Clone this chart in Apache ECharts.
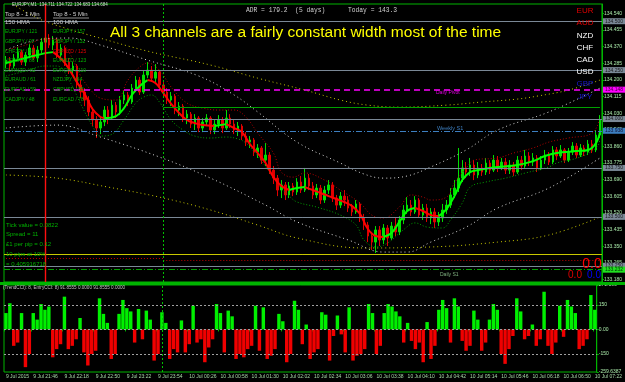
<!DOCTYPE html>
<html>
<head>
<meta charset="utf-8">
<script src="https://cdn.jsdelivr.net/npm/echarts@6.0.0/dist/echarts.min.js"></script>
<style>
  html, body { margin: 0; padding: 0; background: #000; }
  #chart { width: 625px; height: 382px; }
</style>
</head>
<body>
<div id="chart"></div>
<script>
// EURJPY M1, one candle per 4 minutes, starting 9 Jul 21:18
const firstOpen = 134.281;
const closes = [
  134.301,134.271,134.312,134.342,134.291,134.327,134.363,134.312,134.353,134.393,
  134.414,134.378,134.404,134.327,134.363,134.291,134.250,134.271,134.174,134.138,
  134.097,134.036,133.995,133.954,133.985,134.046,134.005,134.071,134.036,134.097,
  134.123,134.087,134.158,134.199,134.138,134.225,134.250,134.209,134.240,134.174,
  134.138,134.097,134.117,134.046,134.066,134.005,134.025,133.974,134.005,133.954,
  133.985,134.005,133.944,133.974,133.995,133.954,134.005,133.974,133.944,133.964,
  133.913,133.882,133.893,133.831,133.852,133.790,133.816,133.739,133.698,133.637,
  133.663,133.612,133.658,133.627,133.678,133.637,133.698,133.658,133.612,133.647,
  133.586,133.637,133.663,133.596,133.560,133.606,133.586,133.545,133.525,133.566,
  133.494,133.458,133.402,133.371,133.433,133.382,133.443,133.392,133.453,133.423,
  133.484,133.535,133.560,133.525,133.586,133.509,133.545,133.494,133.525,133.474,
  133.494,133.535,133.560,133.612,133.647,133.698,133.750,133.729,133.765,133.714,
  133.750,133.729,133.775,133.739,133.790,133.750,133.780,133.739,133.765,133.729,
  133.790,133.760,133.811,133.780,133.801,133.750,133.790,133.816,133.780,133.842,
  133.811,133.842,133.790,133.831,133.862,133.816,133.852,133.831,133.872,133.842,
  133.918,133.995
];
const lows = [
  134.261,134.250,134.261,134.296,134.276,134.271,134.312,134.301,134.291,134.337,
  134.373,134.363,134.353,134.312,134.301,134.271,134.230,134.225,134.158,134.107,
  134.066,134.015,133.964,133.903,133.923,133.964,133.974,133.995,134.005,134.020,
  134.077,134.066,134.077,134.138,134.123,134.128,134.209,134.189,134.189,134.148,
  134.117,134.077,134.066,134.025,134.015,133.985,133.974,133.954,133.944,133.933,
  133.933,133.964,133.923,133.923,133.954,133.928,133.944,133.954,133.923,133.913,
  133.893,133.862,133.852,133.811,133.801,133.770,133.760,133.719,133.668,133.606,
  133.596,133.586,133.596,133.606,133.612,133.622,133.627,133.637,133.591,133.596,
  133.566,133.571,133.617,133.576,133.535,133.545,133.555,133.525,133.504,133.515,
  133.474,133.433,133.371,133.331,133.315,133.351,133.361,133.351,133.382,133.402,
  133.407,133.463,133.515,133.504,133.515,133.494,133.484,133.474,133.463,133.443,
  133.453,133.474,133.515,133.545,133.596,133.627,133.678,133.698,133.709,133.688,
  133.698,133.709,133.714,133.719,133.729,133.729,133.739,133.719,133.719,133.709,
  133.719,133.739,133.750,133.760,133.760,133.729,133.739,133.770,133.765,133.770,
  133.790,133.801,133.775,133.780,133.816,133.801,133.806,133.811,133.816,133.826,
  133.831,133.903
];
const highs = [
  134.322,134.317,134.332,134.368,134.353,134.342,134.383,134.378,134.373,134.414,
  134.445,134.434,134.424,134.414,134.383,134.373,134.312,134.291,134.281,134.199,
  134.158,134.117,134.056,134.015,134.005,134.066,134.066,134.097,134.087,134.117,
  134.148,134.138,134.179,134.220,134.215,134.250,134.291,134.271,134.281,134.250,
  134.189,134.158,134.138,134.128,134.087,134.077,134.046,134.036,134.025,134.015,
  134.005,134.025,134.015,133.995,134.020,134.010,134.046,134.025,133.995,133.985,
  133.974,133.933,133.913,133.903,133.872,133.862,133.877,133.831,133.760,133.714,
  133.688,133.678,133.678,133.673,133.698,133.709,133.750,133.719,133.678,133.668,
  133.663,133.658,133.688,133.678,133.612,133.627,133.637,133.606,133.566,133.586,
  133.576,133.515,133.474,133.423,133.453,133.453,133.463,133.458,133.474,133.494,
  133.504,133.560,133.601,133.586,133.606,133.596,133.566,133.566,133.545,133.545,
  133.525,133.566,133.586,133.647,133.688,133.852,133.790,133.780,133.801,133.790,
  133.780,133.770,133.801,133.790,133.816,133.811,133.801,133.801,133.790,133.780,
  133.811,133.811,133.842,133.831,133.826,133.816,133.811,133.842,133.831,133.862,
  133.857,133.867,133.852,133.852,133.882,133.877,133.872,133.867,133.893,133.893,
  133.944,134.020
];

// HMA centre line (read at candle indexes)
const maIdx = [0,5,10,12,15,18,20,22,24,25,28,30,32,34,36,38,40,42,44,46,
  48,50,53,56,58,60,62,64,66,68,70,72,74,76,78,80,82,84,86,88,
  90,92,94,96,98,100,102,104,106,108,110,112,114,116,118,120,125,130,134,137,
  140,145,148,150,151];
const maVal = [134.286,134.312,134.337,134.342,134.286,134.189,134.128,134.051,134.010,134.005,
  134.015,134.056,134.123,134.169,134.199,134.184,134.133,134.077,134.031,133.995,
  133.979,133.969,133.964,133.974,133.954,133.933,133.872,133.826,133.775,133.703,
  133.658,133.637,133.647,133.652,133.637,133.622,133.606,133.591,133.576,133.555,
  133.515,133.438,133.402,133.397,133.417,133.474,133.530,133.545,133.530,133.509,
  133.504,133.540,133.606,133.688,133.729,133.739,133.755,133.765,133.785,133.811,
  133.826,133.836,133.842,133.877,133.933];

// HMA channel
const envUpIdx = [0,5,10,13,16,19,22,24,28,31,34,36,39,42,46,50,54,58,61,64,
  68,70,73,76,81,85,90,93,96,100,103,106,108,112,114,117,119,125,129,134,138,143,149,151];
const envUpVal = [134.353,134.378,134.409,134.409,134.342,134.220,134.138,134.107,134.097,134.199,
  134.266,134.286,134.250,134.163,134.082,134.056,134.046,134.046,134.010,133.928,
  133.826,133.729,133.703,133.724,133.688,133.637,133.571,133.509,133.494,133.550,
  133.612,133.601,133.586,133.601,133.673,133.750,133.790,133.801,133.826,133.852,
  133.882,133.903,133.928,134.005];
const envLoIdx = [0,5,10,13,16,19,22,24,27,30,33,35,37,39,42,45,48,52,56,59,
  61,64,67,70,72,74,79,85,89,91,94,97,101,104,107,111,113,116,118,122,127,132,138,140,146,150,151];
const envLoVal = [134.220,134.245,134.271,134.271,134.199,134.077,133.964,133.913,133.923,133.995,
  134.082,134.112,134.123,134.087,133.995,133.944,133.913,133.903,133.908,133.898,
  133.877,133.811,133.729,133.647,133.606,133.576,133.550,133.509,133.458,133.382,
  133.346,133.366,133.433,133.469,133.448,133.443,133.484,133.571,133.652,133.678,
  133.698,133.724,133.755,133.775,133.806,133.852,133.893];

// outer regression channels
const yelUpIdx = [0,8,15,23,36,52,64,76,85,92,100,112,121,130,135,143,151];
const yelUpVal = [134.608,134.516,134.465,134.419,134.347,134.276,134.209,134.148,134.097,134.071,
  134.061,134.071,134.087,134.102,134.117,134.148,134.199];
const yelLoIdx = [0,13,26,39,52,64,74,91,108,125,138,151];
const yelLoVal = [133.714,133.698,133.652,133.601,133.535,133.458,133.392,133.341,133.346,133.371,133.407,133.499];
const whUpIdx = [0,8,16,24,36,49,58,64,74,85,91,96,102,108,117,125,138,151];
const whUpVal = [134.353,134.404,134.414,134.378,134.301,134.220,134.123,134.036,133.882,133.775,
  133.719,133.698,133.709,133.755,133.842,133.944,134.036,134.158];
const whLoIdx = [0,13,24,39,52,66,74,87,96,102,108,117,125,138,151];
const whLoVal = [133.954,133.969,133.908,133.806,133.698,133.560,133.474,133.382,133.320,133.320,
  133.371,133.448,133.545,133.647,133.801];

// Woodies CCI histogram
const cci = [
  100,160,-100,-80,100,-230,-150,100,60,155,
  120,140,-170,-120,-90,200,-120,-100,-60,70,
  -140,-220,-150,-130,190,95,40,-180,-150,95,
  180,130,110,-80,125,-60,115,60,-190,-150,
  105,40,-180,-120,-140,55,-140,-90,145,-80,
  -60,-200,-110,-60,155,100,-140,115,80,-180,
  -150,-170,-120,-100,145,-130,135,-180,-160,-120,
  95,50,-200,-150,175,120,-90,30,-180,-140,
  -120,105,90,-190,-40,85,-30,-140,135,-190,
  -160,-150,-120,155,100,-150,-100,100,155,140,
  110,80,-80,40,-70,-120,-80,-200,45,-180,
  -100,120,180,130,-80,190,140,-70,-130,-100,
  115,60,-130,-80,60,155,120,-150,-210,-120,
  -40,190,110,-60,-40,30,-100,-60,230,-100,
  -150,-80,145,-45,180,140,100,-120,-100,-60,
  210,120
];

const priceMin = 133.167, priceMax = 134.588;
const priceTicks = [134.540,134.455,134.370,134.285,134.200,134.115,134.030,133.945,133.860,
  133.775,133.690,133.605,133.520,133.435,133.350,133.265,133.180];
const cciMin = -259.6387, cciMax = 271.196;
const cciTicks = [271.196, 150, 0, -150, -259.6387];

const xLabelIdx = [0,7,15,23,31,39,47,55,63,71,79,87,95,103,111,119,127,135,143,151];
const xLabels = ['9 Jul 2015','9 Jul 21:46','9 Jul 22:18','9 Jul 22:50','9 Jul 23:22','9 Jul 23:54',
  '10 Jul 00:26','10 Jul 00:58','10 Jul 01:30','10 Jul 02:02','10 Jul 02:34','10 Jul 03:06',
  '10 Jul 03:38','10 Jul 04:10','10 Jul 04:42','10 Jul 05:14','10 Jul 05:46','10 Jul 06:18',
  '10 Jul 06:50','10 Jul 07:22'];

const roundLevels = [134.500, 134.250, 134.000, 133.750, 133.500, 133.250];
const dailyPivot = 134.148, weeklyS1 = 133.938, dailyS1 = 133.232;
const todayOpen = 134.061, yellowLevel = 133.305, redLevels = [133.290, 133.280];
const sessionIdx = 40, redLineIdx = 10;

const top1m = ['EURJPY / 121','GBPJPY / 97','CHFJPY / 88','USDJPY / 86','EURNZD / 82','EURAUD / 61','EURCAD / 59','CADJPY / 48'];
const top5m = ['EURJPY / 157','GBPJPY / 132','GBPNZD / 125','EURNZD / 123','EURCHF / 110','NZDJPY / 94','GBPUSD / 85','EURCAD / 78'];
const currencies = ['EUR','AUD','NZD','CHF','CAD','USD','GBP','JPY'];
const currencyColors = ['#e00000','#e00000','#ffffff','#ffffff','#ffffff','#ffffff','#1818d0','#1818d0'];
const infoLines = ['Tick value = 0.0822','Spread = 11','\u00a31 per pip = 0.12','10 pips at 10%','= 0.405916718'];

// ---- build
const cats = closes.map((c, i) => String(i));
const candles = closes.map((c, i) => [i === 0 ? firstOpen : closes[i - 1], c, lows[i], highs[i]]);
const pairs = (idx, val) => idx.map((x, k) => [x, val[k]]);
const labelOf = {};
xLabelIdx.forEach((x, k) => { labelOf[x] = xLabels[k]; });

const GREEN = '#00b400';
const FONT = '"Liberation Sans", Arial, sans-serif';

// colour the HMA by slope
const maRuns = [];
let run = null;
for (let k = 1; k < maIdx.length; k++) {
  const up = maVal[k] >= maVal[k - 1];
  if (!run || run.up !== up) {
    run = { up: up, data: [[maIdx[k - 1], maVal[k - 1]]] };
    maRuns.push(run);
  }
  run.data.push([maIdx[k], maVal[k]]);
}

function dotted(name, data, color, dash) {
  return {
    name: name, type: 'line', xAxisIndex: 0, yAxisIndex: 0, data: data,
    showSymbol: false, smooth: 0.4, silent: true, z: 3,
    lineStyle: { color: color, width: 1, type: dash || [1, 2] }
  };
}

function boxLabel(text, bg, fg) {
  return {
    show: true, position: 'end', distance: 1, formatter: text,
    backgroundColor: bg, color: fg || '#000', fontSize: 5, fontFamily: FONT,
    padding: [1, 2, 0, 2]
  };
}

// a data-less line series only used to carry a vertical marker line
function vLine(xAxisIndex, yAxisIndex, idx, color, dash, width) {
  return {
    type: 'line', xAxisIndex: xAxisIndex, yAxisIndex: yAxisIndex, data: [], silent: true, z: 5,
    color: color,
    markLine: {
      silent: true, symbol: ['none', 'none'], animation: false, label: { show: false },
      lineStyle: { color: color, type: dash, width: width || 1, opacity: 1 },
      data: [{ xAxis: idx }]
    }
  };
}

const levelLines = roundLevels.map(v => ({
  yAxis: v, lineStyle: { color: '#7a8896', type: 'solid', width: 1 },
  label: boxLabel(v.toFixed(3), '#7a8896', '#1a1a1a')
}));
levelLines.push({ yAxis: dailyPivot, lineStyle: { color: '#ff00ff', type: [6, 4], width: 1.5 },
  label: boxLabel(dailyPivot.toFixed(3), '#ff00ff', '#400040') });
levelLines.push({ yAxis: weeklyS1, lineStyle: { color: '#3d7fc0', type: [6, 2, 1, 2], width: 1 },
  label: boxLabel(weeklyS1.toFixed(3), '#3d7fc0', '#101030') });
levelLines.push({ yAxis: dailyS1, lineStyle: { color: '#00a000', type: [6, 2, 1, 2], width: 1 },
  label: boxLabel(dailyS1.toFixed(3), '#20e020', '#003000') });
levelLines.push({ yAxis: yellowLevel, lineStyle: { color: '#c8c800', type: 'solid', width: 1 }, label: { show: false } });
levelLines.push([{ coord: [0, redLevels[0]] }, { coord: [sessionIdx, redLevels[0]],
  lineStyle: { color: '#c00000', type: [1, 2], width: 1 }, label: { show: false } }]);
levelLines.push([{ coord: [sessionIdx, redLevels[1]] }, { coord: [closes.length - 1, redLevels[1]],
  lineStyle: { color: '#c00000', type: [1, 2], width: 1 }, label: { show: false } }]);
levelLines.push([{ coord: [sessionIdx, todayOpen] }, { coord: [closes.length - 1, todayOpen],
  lineStyle: { color: '#00a000', type: 'solid', width: 1 }, label: { show: false } }]);

const series = [
  dotted('yelUp', pairs(yelUpIdx, yelUpVal), '#c8c800', [1, 3]),
  dotted('yelLo', pairs(yelLoIdx, yelLoVal), '#c8c800', [1, 3]),
  dotted('whUp', pairs(whUpIdx, whUpVal), '#d8d8d8', [1, 3]),
  dotted('whLo', pairs(whLoIdx, whLoVal), '#d8d8d8', [1, 3]),
  {
    name: 'EURJPY', type: 'candlestick', xAxisIndex: 0, yAxisIndex: 0, data: candles,
    barWidth: 2, z: 2,
    itemStyle: { color: '#00e000', color0: '#e00000', borderColor: '#00e000', borderColor0: '#e00000', borderWidth: 1 },
    markLine: { silent: true, symbol: ['none', 'none'], animation: false, data: levelLines }
  },
  dotted('envUp', pairs(envUpIdx, envUpVal), '#b00000', [1, 2]),
  dotted('envLo', pairs(envLoIdx, envLoVal), '#00a000', [1, 2]),
  vLine(0, 0, redLineIdx, '#ff1010', 'solid', 1.4),
  vLine(0, 0, sessionIdx, '#00c000', [2, 2]),
  vLine(1, 1, sessionIdx, '#00c000', [2, 2])
];
maRuns.forEach(r => {
  series.push({
    type: 'line', xAxisIndex: 0, yAxisIndex: 0, data: r.data, showSymbol: false,
    smooth: 0.4, silent: true, z: 4,
    lineStyle: { color: r.up ? '#00ff00' : '#ff0000', width: 2 }
  });
});
series.push({
  name: 'CCI', type: 'bar', xAxisIndex: 1, yAxisIndex: 1, barCategoryGap: '12%',
  data: cci.map(v => ({ value: v, itemStyle: { color: v >= 0 ? '#00f000' : '#f00000' } })),
  markLine: {
    silent: true, symbol: ['none', 'none'], animation: false, label: { show: false },
    data: [
      { yAxis: 150, lineStyle: { color: '#a0a0a0', type: [2, 2], width: 1 } },
      { yAxis: 0, lineStyle: { color: '#a0a0a0', type: [2, 2], width: 1 } },
      { yAxis: -150, lineStyle: { color: '#a0a0a0', type: [2, 2], width: 1 } }
    ]
  }
});

// texts drawn on the chart window
function txt(x, y, text, color, size, extra) {
  return {
    type: 'text', x: x, y: y, z: 100, silent: true,
    style: Object.assign({ text: text, fill: color, font: size + 'px ' + FONT, verticalAlign: 'middle' }, extra || {})
  };
}
const graphic = [
  { type: 'rect', shape: { x: 0, y: 282, width: 625, height: 3 }, style: { fill: GREEN }, z: 1, silent: true },
  txt(12, 5, 'EURJPY,M1  134.711 134.722 134.683 134.684', '#d8d8d8', 4.5),
  txt(5, 14.5, 'Top 8 - 1 Min', '#d0d0d0', 6),
  txt(5, 22, '150 HMA', '#d0d0d0', 6),
  txt(53, 14.5, 'Top 8 - 5 Min', '#d0d0d0', 6),
  txt(53, 22, '100 HMA', '#d0d0d0', 6),
  { type: 'line', shape: { x1: 5, y1: 18, x2: 41, y2: 18 }, style: { stroke: '#d0d0d0', lineWidth: 0.7 }, z: 100, silent: true },
  { type: 'line', shape: { x1: 53, y1: 18, x2: 89, y2: 18 }, style: { stroke: '#d0d0d0', lineWidth: 0.7 }, z: 100, silent: true },
  txt(110, 33, 'All 3 channels are a fairly constant width most of the time', '#ffff00', 15.5),
  txt(246, 10, 'ADR = 179.2  (5 days)', '#d0d0d0', 6.3, { font: '6.3px "Liberation Mono", monospace' }),
  txt(348, 10, 'Today = 143.3', '#d0d0d0', 6.3, { font: '6.3px "Liberation Mono", monospace' }),
  txt(436, 93, 'Daily Pivot', '#e000e0', 5),
  txt(437, 128, 'Weekly S1', '#3d7fc0', 5.5),
  txt(440, 275, 'Daily S1', '#7fb07f', 5),
  txt(592, 264, '0.0', '#ff0000', 14, { align: 'center' }),
  txt(575, 275, '0.0', '#e00000', 10, { align: 'center' }),
  txt(594, 275, '0.0', '#0000ff', 10, { align: 'center' }),
  txt(3, 288, '(TrendCCI): 8, EntryCCI: 8) 91.8555 0.0000 91.8555 0.0000', '#c0c0c0', 4.6)
];
top1m.forEach((t, k) => graphic.push(txt(5, 32 + k * 9.6, t, '#00b000', 5)));
top5m.forEach((t, k) => graphic.push(txt(53, 32 + k * 9.6, t, k === 2 ? '#e00000' : '#00b000', 5)));
currencies.forEach((t, k) => graphic.push(txt(585, 11 + k * 12.2, t, currencyColors[k], 8, { align: 'center' })));
infoLines.forEach((t, k) => graphic.push(txt(6, 225 + k * 9.8, t, '#00b000', 6)));

const chart = echarts.init(document.getElementById('chart'));
chart.setOption({
  backgroundColor: '#000',
  animation: false,
  grid: [
    { left: 4, right: 21, top: 4, height: 278, show: true, borderColor: GREEN, borderWidth: 1 },
    { left: 4, right: 21, top: 285, height: 87, show: true, borderColor: GREEN, borderWidth: 1 }
  ],
  xAxis: [
    { type: 'category', gridIndex: 0, data: cats, axisLine: { show: false }, axisTick: { show: false },
      axisLabel: { show: false }, splitLine: { show: false } },
    { type: 'category', gridIndex: 1, data: cats, axisLine: { show: false },
      axisTick: { show: true, length: 2, interval: i => labelOf[i] !== undefined, lineStyle: { color: GREEN } },
      axisLabel: { interval: i => labelOf[i] !== undefined, formatter: (v, i) => labelOf[i] || '',
        fontSize: 5, fontFamily: FONT, color: '#a8d8a8', align: 'left', margin: 2 },
      splitLine: { show: false } }
  ],
  yAxis: [
    { type: 'value', gridIndex: 0, position: 'right', min: priceMin, max: priceMax, splitLine: { show: false },
      axisLine: { show: true, lineStyle: { color: GREEN } },
      axisTick: { show: true, length: 2, customValues: priceTicks, lineStyle: { color: GREEN } },
      axisLabel: { customValues: priceTicks, formatter: v => v.toFixed(3), fontSize: 5, fontFamily: FONT,
        color: '#a8e8a8', margin: 2 } },
    { type: 'value', gridIndex: 1, position: 'right', min: cciMin, max: cciMax, splitLine: { show: false },
      axisLine: { show: true, lineStyle: { color: GREEN } },
      axisTick: { show: true, length: 2, customValues: cciTicks, lineStyle: { color: GREEN } },
      axisLabel: { customValues: cciTicks, formatter: v => (v === 0 ? '0.00' : String(v)), fontSize: 5,
        fontFamily: FONT, color: '#a8e8a8', margin: 2 } }
  ],
  series: series,
  graphic: graphic
});
</script>
</body>
</html>
